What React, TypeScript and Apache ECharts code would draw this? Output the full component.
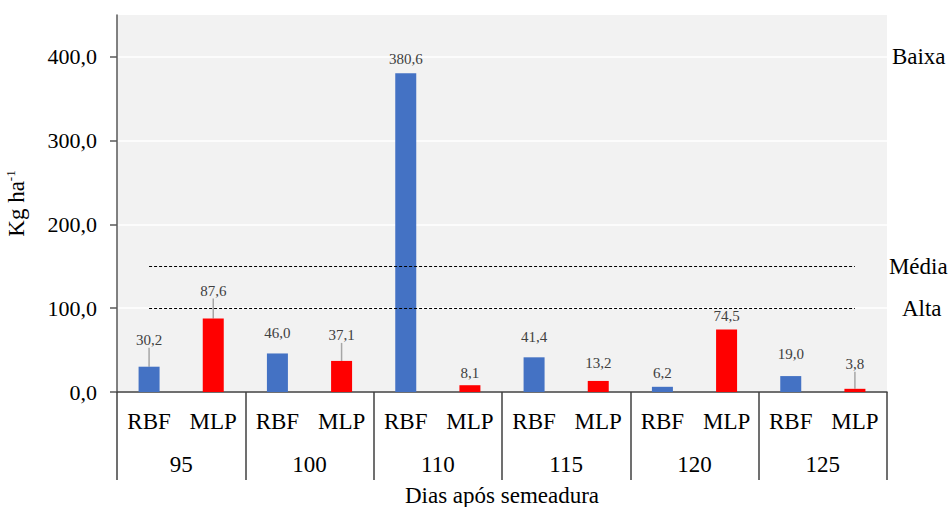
import React, { useEffect, useRef } from "react";
import * as echarts from "echarts";

const groups = ["95", "100", "110", "115", "120", "125"];
const models = ["RBF", "MLP"];
const rbfValues = [30.2, 46.0, 380.6, 41.4, 6.2, 19.0];
const mlpValues = [87.6, 37.1, 8.1, 13.2, 74.5, 3.8];
const yTicks = [0, 100, 200, 300, 400];
const levelNames = ["Baixa", "Média", "Alta"];
const levelValues = [400, 150, 100];
const levelHasLine = [false, true, true];

// styling: vertical label nudges and leader-line flags (per bar, in order)
const labelDy = [-14, -15, -8, -13, -2, 0, -8, -5, -1, -1, -10, -12];
const leader = [true, true, false, true, false, false, false, false, false, false, false, true];
const levelDist = [37, 34, 47];
const levelPad = [
  [0, 0, 0, 0],
  [0, 0, 8, 0],
  [6, 0, 0, 0],
];

const FONT = "Liberation Serif";
const fmt = (v: number) => v.toFixed(1).replace(".", ",");

export default function App() {
  const ref = useRef<HTMLDivElement>(null);
  useEffect(() => {
    if (!ref.current) return;
    const chart = echarts.init(ref.current, undefined, { renderer: "svg" });
    const cats: string[] = [];
    const data: any[] = [];
    groups.forEach((g, i) => {
      cats.push(models[0], models[1]);
      [rbfValues[i], mlpValues[i]].forEach((v, k) => {
        const idx = i * 2 + k;
        data.push({
          value: v,
          itemStyle: { color: k === 0 ? "#4472C4" : "#FF0000" },
          labelLine: { show: leader[idx], lineStyle: { color: "#A6A6A6", width: 1.5 } },
        });
      });
    });
    const last = cats.length - 1;
    const markData: any[] = levelNames.map((name, i) => [
      {
        xAxis: 0,
        yAxis: levelValues[i],
        lineStyle: levelHasLine[i]
          ? { color: "#000", type: [3, 2], width: 1 }
          : { color: "rgba(0,0,0,0)", width: 1 },
        label: {
          show: true,
          position: "end",
          formatter: name,
          distance: levelDist[i],
          padding: levelPad[i],
          fontFamily: FONT,
          fontSize: 23,
          color: "#000",
        },
      },
      { xAxis: last, yAxis: levelValues[i] },
    ]);
    chart.setOption({
      animation: false,
      textStyle: { fontFamily: FONT },
      grid: {
        left: 117,
        right: 64,
        top: 15,
        bottom: 115,
        outerBoundsMode: "none",
        containLabel: false,
        show: true,
        backgroundColor: "#F2F2F2",
        borderWidth: 0,
      },
      xAxis: [
        {
          type: "category",
          data: cats,
          position: "bottom",
          axisLine: { show: true, lineStyle: { color: "#404040", width: 1.5 } },
          axisTick: { show: false },
          axisLabel: { interval: 0, fontSize: 23, color: "#000", margin: 18, fontFamily: FONT },
          name: "Dias após semeadura",
          nameLocation: "middle",
          nameGap: 92,
          nameTextStyle: { fontSize: 23, color: "#000", fontFamily: FONT },
        },
        {
          type: "category",
          data: groups,
          position: "bottom",
          axisLine: { show: false },
          axisTick: {
            show: true,
            interval: 0,
            length: 88,
            lineStyle: { color: "#404040", width: 1.5 },
          },
          axisLabel: { interval: 0, fontSize: 23, color: "#000", margin: 61, fontFamily: FONT },
        },
      ],
      yAxis: {
        type: "value",
        min: 0,
        max: 450,
        interval: 100,
        axisLine: { show: true, lineStyle: { color: "#595959", width: 1.5 } },
        axisTick: {
          show: true,
          length: 7,
          customValues: yTicks,
          lineStyle: { color: "#595959", width: 1.5 },
        },
        axisLabel: {
          customValues: yTicks,
          formatter: (v: number) => fmt(v),
          fontSize: 22,
          color: "#000",
          margin: 20,
          fontFamily: FONT,
        },
        splitLine: { show: true, lineStyle: { color: "#FFFFFF", width: 1.5 } },
        name: "{a|Kg ha}{b|-1}",
        nameLocation: "middle",
        nameGap: 88,
        nameTextStyle: {
          fontFamily: FONT,
          rich: {
            a: { fontSize: 23, color: "#000", fontFamily: FONT },
            b: { fontSize: 13, color: "#000", fontFamily: FONT, padding: [0, 0, 12, 0] },
          },
        },
      },
      series: [
        {
          type: "bar",
          xAxisIndex: 0,
          barWidth: 21,
          data,
          label: {
            show: true,
            position: "top",
            distance: 5,
            fontSize: 15,
            color: "#404040",
            fontFamily: FONT,
            formatter: (p: any) => fmt(p.value),
          },
          labelLayout: (p: any) => ({ dy: labelDy[p.dataIndex] }),
          markLine: {
            silent: true,
            symbol: "none",
            data: markData,
          },
        },
      ],
    });
    return () => chart.dispose();
  }, []);
  return (
    <div
      ref={ref}
      style={{ position: "fixed", left: 0, top: 0, width: 951, height: 507, background: "#fff" }}
    />
  );
}
